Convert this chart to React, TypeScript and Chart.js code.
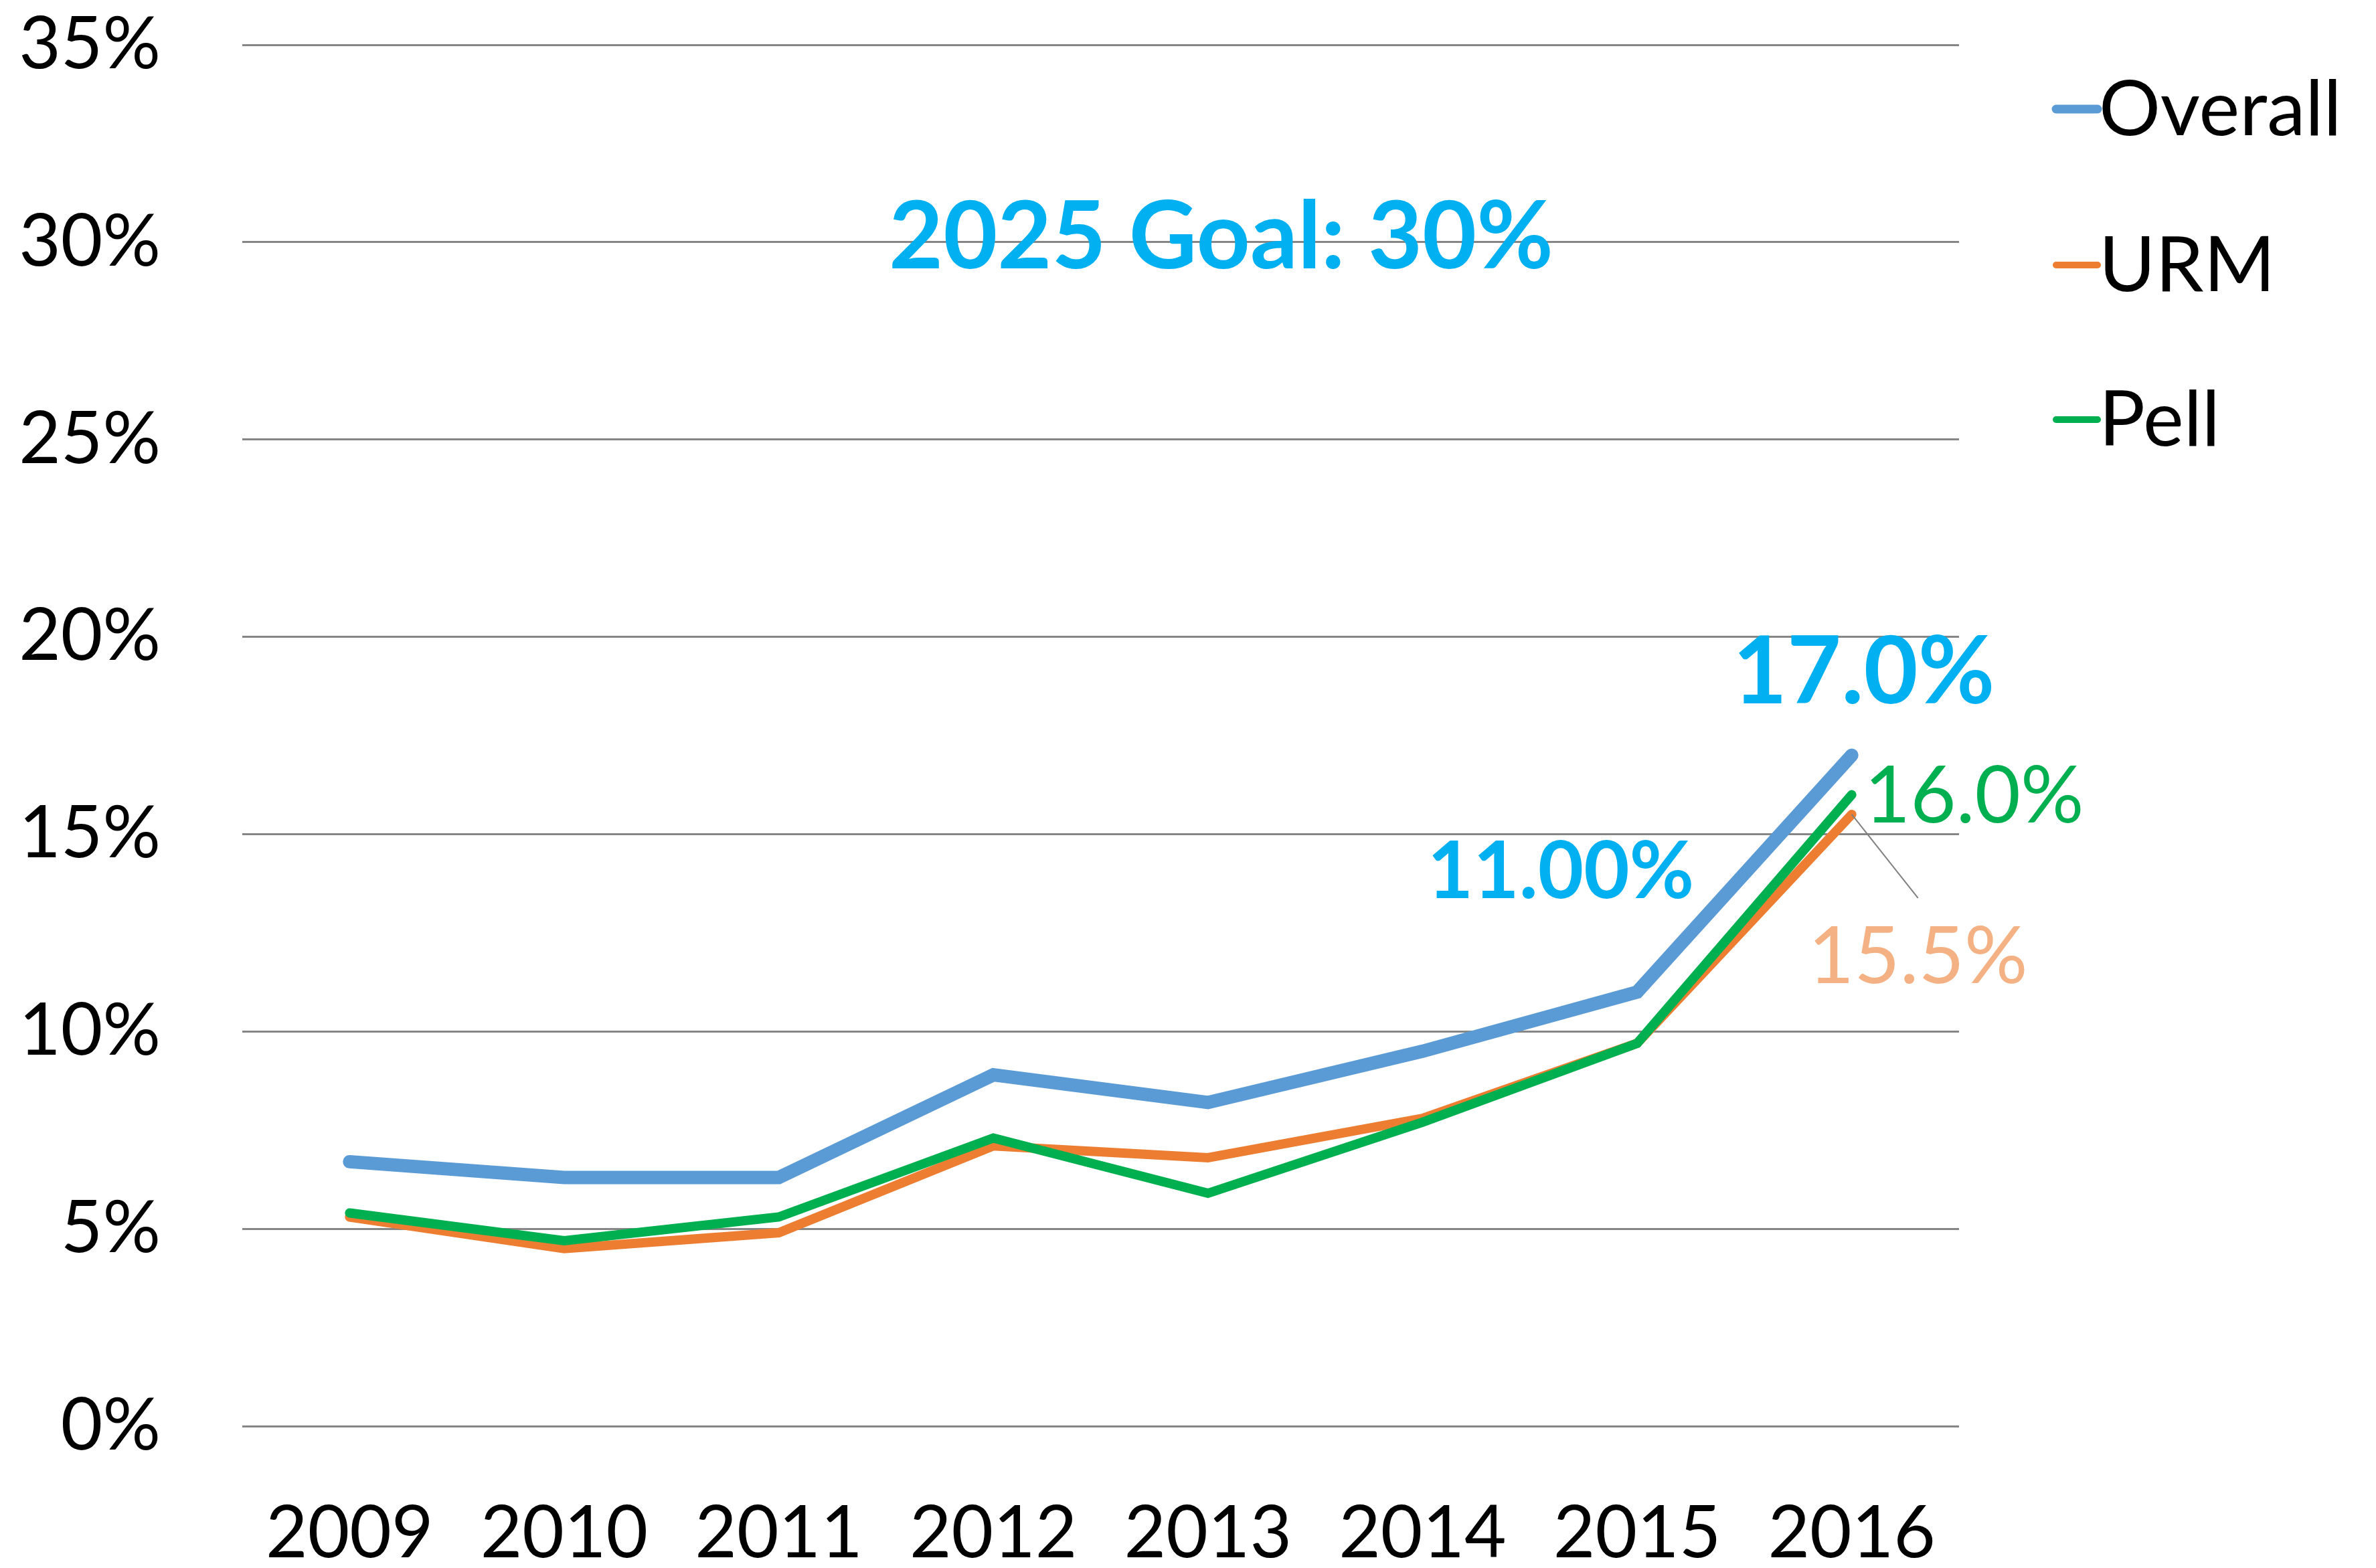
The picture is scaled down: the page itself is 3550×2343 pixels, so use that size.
import React, { useEffect, useRef } from "react";
import { Chart, registerables } from "chart.js";

Chart.register(...registerables);

const years = ["2009", "2010", "2011", "2012", "2013", "2014", "2015", "2016"];
const overall = [6.7, 6.3, 6.3, 8.9, 8.2, 9.5, 11.0, 17.0];
const urm = [5.3, 4.5, 4.9, 7.1, 6.8, 7.8, 9.7, 15.5];
const pell = [5.4, 4.7, 5.3, 7.3, 5.9, 7.7, 9.7, 16.0];
const seriesNames = ["Overall", "URM", "Pell"];
const seriesColors = ["#5B9BD5", "#ED7D31", "#00B050"];
const goalText = "2025 Goal: 30%";

const FONT = "Lato, 'Open Sans', sans-serif";

const annotations = {
  id: "annotations",
  afterDatasetsDraw(chart: any) {
    const ctx = chart.ctx;
    const x = chart.scales.x;
    const y = chart.scales.y;
    const ca = chart.chartArea;
    ctx.save();
    ctx.textAlign = "center";
    ctx.textBaseline = "middle";
    // goal text
    ctx.fillStyle = "#00B0F0";
    ctx.font = `bold 140px ${FONT}`;
    ctx.fillText(goalText, (ca.left + ca.right) / 2 + 180, y.getPixelForValue(30) - 6);

    const last = years.length - 1;
    // 17.0%
    let px = x.getPixelForValue(last);
    let py = y.getPixelForValue(overall[last]);
    ctx.font = `bold 140px ${FONT}`;
    ctx.fillText(overall[last].toFixed(1) + "%", px + 18, py - 123);
    // 11.00%
    px = x.getPixelForValue(last - 1);
    py = y.getPixelForValue(overall[last - 1]);
    ctx.font = `bold 118px ${FONT}`;
    ctx.fillText(overall[last - 1].toFixed(2) + "%", px - 114, py - 178);
    // 16.0%
    px = x.getPixelForValue(last);
    py = y.getPixelForValue(pell[last]);
    ctx.fillStyle = "#00B050";
    ctx.font = `118px ${FONT}`;
    ctx.fillText(pell[last].toFixed(1) + "%", px + 183, py + 3);
    // 15.5% with leader
    px = x.getPixelForValue(last);
    py = y.getPixelForValue(urm[last]);
    ctx.strokeStyle = "#7f7f7f";
    ctx.lineWidth = 2;
    ctx.beginPath();
    ctx.moveTo(px, py);
    ctx.lineTo(px + 99, py + 125);
    ctx.stroke();
    ctx.fillStyle = "#F4B183";
    ctx.fillText(urm[last].toFixed(1) + "%", px + 99, py + 214);

    // legend
    const legY = [163, 396, 627];
    const legW = [13, 10, 10];
    ctx.textAlign = "left";
    ctx.font = `115px ${FONT}`;
    for (let i = 0; i < 3; i++) {
      ctx.strokeStyle = seriesColors[i];
      ctx.lineWidth = legW[i];
      ctx.lineCap = "round";
      ctx.beginPath();
      ctx.moveTo(3072, legY[i]);
      ctx.lineTo(3134, legY[i]);
      ctx.stroke();
      ctx.fillStyle = "#000000";
      ctx.fillText(seriesNames[i], 3136, legY[i] + 2);
    }
    ctx.restore();
  },
};

export default function App() {
  const ref = useRef<HTMLCanvasElement | null>(null);
  useEffect(() => {
    document.body.style.margin = "0";
    const canvas = ref.current!;
    const chart = new Chart(canvas, {
      type: "line",
      data: {
        labels: years,
        datasets: [
          { label: seriesNames[0], data: overall, borderColor: seriesColors[0], borderWidth: 20, order: 3 },
          { label: seriesNames[1], data: urm, borderColor: seriesColors[1], borderWidth: 14, order: 2 },
          { label: seriesNames[2], data: pell, borderColor: seriesColors[2], borderWidth: 14, order: 1 },
        ].map((d) => ({
          ...d,
          pointRadius: 0,
          pointHoverRadius: 0,
          tension: 0,
          fill: false,
          borderCapStyle: "round" as const,
          borderJoinStyle: "miter" as const,
        })),
      },
      options: {
        responsive: false,
        animation: false,
        events: [],
        layout: { padding: { top: 67, right: 623, left: 0, bottom: 0 } },
        plugins: { legend: { display: false }, tooltip: { enabled: false }, title: { display: false } },
        scales: {
          x: {
            type: "category",
            offset: true,
            grid: { display: false, drawTicks: false },
            border: { display: false },
            ticks: { color: "#000", font: { family: FONT, size: 108 }, padding: 96, maxRotation: 0 },
            afterFit: (s: any) => {
              s.height = 212;
              s.paddingLeft = 0;
              s.paddingRight = 0;
            },
          },
          y: {
            min: 0,
            max: 35,
            grid: { color: "#868686", lineWidth: 3, drawTicks: false },
            border: { display: false },
            ticks: {
              stepSize: 5,
              color: "#000",
              font: { family: FONT, size: 108 },
              padding: 122,
              callback: (v: any) => v + "%",
            },
            afterFit: (s: any) => {
              s.width = 362;
              s.paddingTop = 0;
              s.paddingBottom = 0;
            },
          },
        },
      },
      plugins: [annotations],
    });
    return () => chart.destroy();
  }, []);
  return (
    <div style={{ position: "fixed", left: 0, top: 0, width: 3550, height: 2343, background: "#fff" }}>
      <canvas ref={ref} width={3550} height={2343} style={{ width: 3550, height: 2343 }} />
    </div>
  );
}
